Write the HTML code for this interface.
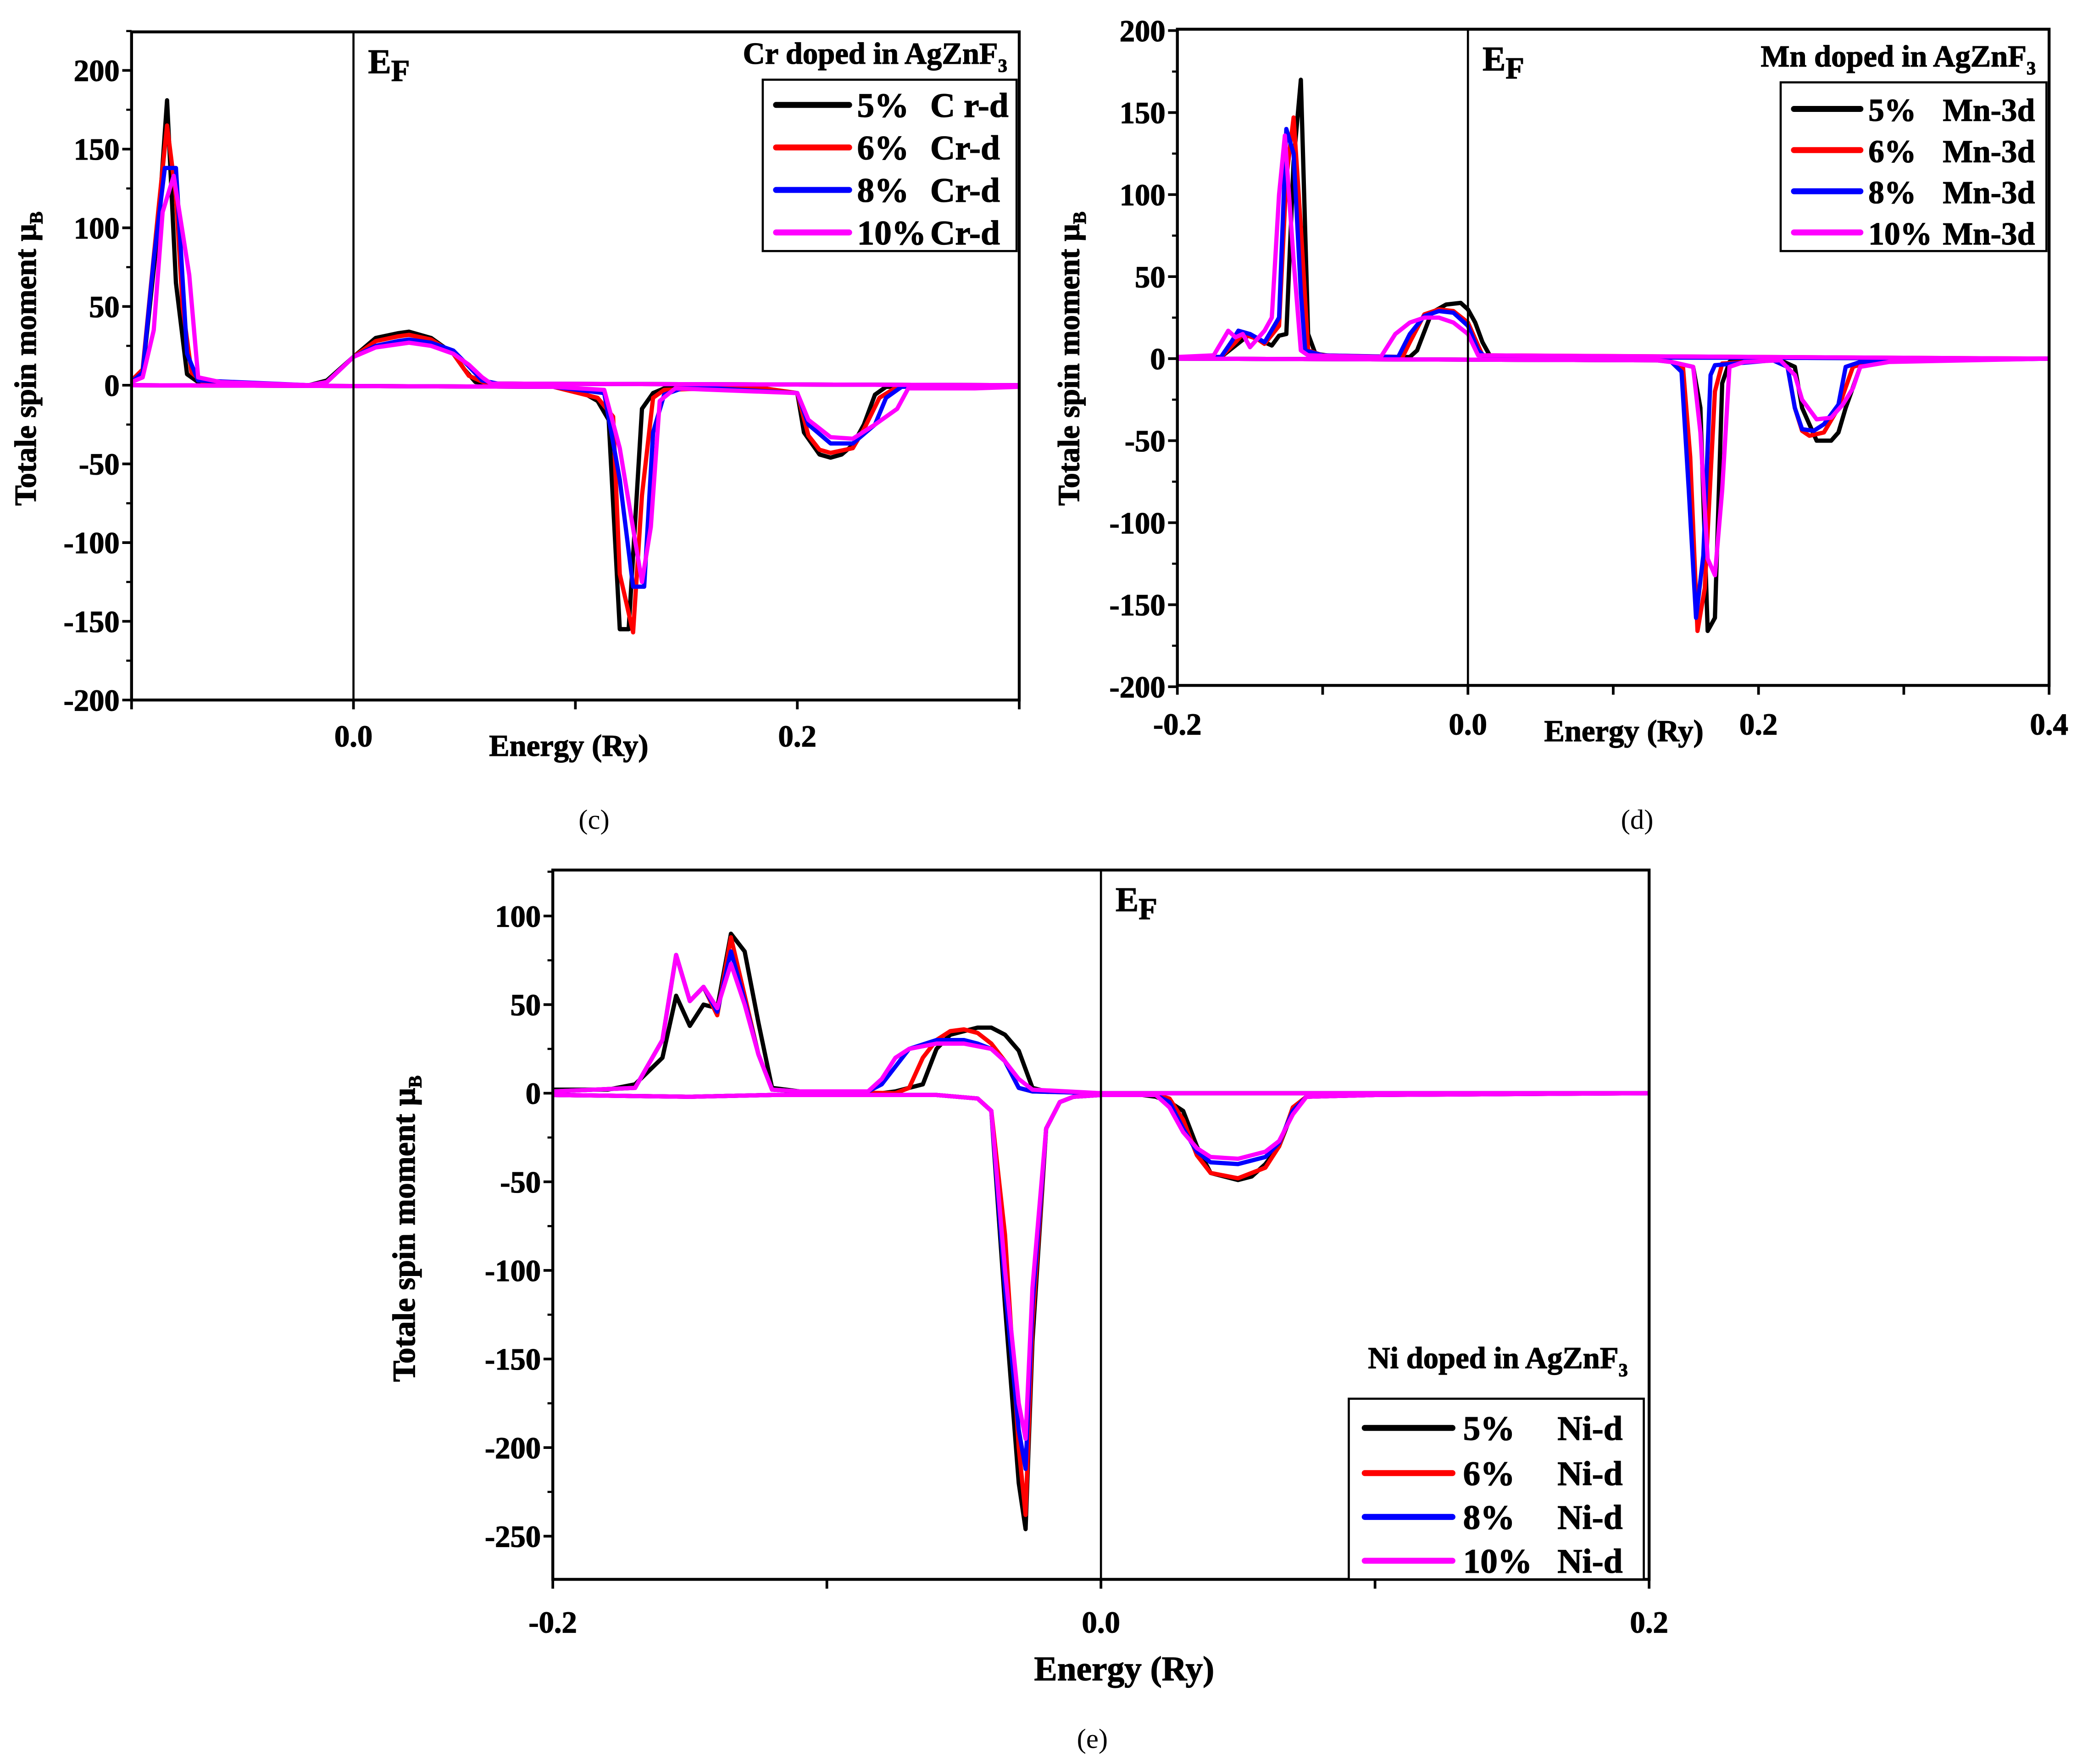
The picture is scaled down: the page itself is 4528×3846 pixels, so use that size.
<!DOCTYPE html>
<html><head><meta charset="utf-8"><style>
html,body{margin:0;padding:0;background:#fff;}
svg{display:block;font-family:"Liberation Serif",serif;font-weight:bold;}
svg text{font-weight:bold;stroke:#000;stroke-width:0.45px;}
svg text.cap{font-weight:normal;stroke:none;}
</style></head><body>
<svg id="fig" xmlns="http://www.w3.org/2000/svg" width="4528" height="3846" viewBox="0 0 1563 1328" preserveAspectRatio="none"></svg>
<script>
// ---------- DATA ----------
const seriesLabels = ["5%","6%","8%","10%"];
const seriesColors = ["#000000","#ff0000","#0000ff","#ff00ff"];

// Panel (c) Cr: [energy Ry, moment]
const crUp5 = [[-0.1,3],[-0.095,8],[-0.088,100],[-0.084,181],[-0.08,65],[-0.075,7],[-0.07,2],[-0.06,1],[-0.02,0],[-0.012,3],[0,18],[0.01,30],[0.02,33],[0.025,34],[0.035,30],[0.045,20],[0.05,10],[0.055,2],[0.065,1],[0.3,0]];
const crUp6 = [[-0.1,3],[-0.095,10],[-0.088,110],[-0.084,165],[-0.08,120],[-0.077,50],[-0.073,8],[-0.068,2],[-0.02,0],[-0.012,2],[0,18],[0.01,28],[0.02,31],[0.025,32],[0.035,29],[0.045,20],[0.052,6],[0.06,1],[0.3,0]];
const crUp8 = [[-0.1,2],[-0.095,8],[-0.09,80],[-0.085,138],[-0.08,138],[-0.075,20],[-0.07,3],[-0.02,0],[-0.012,2],[0,18],[0.01,25],[0.02,28],[0.025,29],[0.035,27],[0.045,22],[0.052,12],[0.058,3],[0.065,1],[0.3,0]];
const crUp10 = [[-0.1,2],[-0.095,5],[-0.09,35],[-0.086,110],[-0.081,133],[-0.074,70],[-0.07,5],[-0.06,2],[-0.02,0],[-0.012,2],[0,18],[0.01,24],[0.02,26],[0.025,27],[0.035,25],[0.045,20],[0.052,13],[0.058,5],[0.062,1],[0.3,0]];
const crDn5 = [[-0.1,0],[0.09,-1],[0.1,-2],[0.11,-10],[0.115,-22],[0.12,-155],[0.124,-155],[0.13,-15],[0.135,-5],[0.14,-2],[0.18,-1],[0.2,-5],[0.203,-30],[0.21,-44],[0.215,-46],[0.22,-44],[0.225,-38],[0.23,-25],[0.235,-6],[0.24,-1],[0.3,0]];
const crDn6 = [[-0.1,0],[0.09,-1],[0.11,-8],[0.117,-20],[0.12,-120],[0.126,-157],[0.13,-70],[0.135,-8],[0.14,-3],[0.18,-1],[0.2,-5],[0.205,-32],[0.21,-41],[0.215,-43],[0.225,-40],[0.23,-28],[0.237,-8],[0.245,-1],[0.3,0]];
const crDn8 = [[-0.1,0],[0.09,-1],[0.113,-5],[0.12,-60],[0.126,-128],[0.131,-128],[0.135,-30],[0.14,-6],[0.15,-1],[0.2,-5],[0.205,-25],[0.215,-37],[0.225,-37],[0.235,-25],[0.24,-8],[0.247,-1],[0.3,0]];
const crDn10 = [[-0.1,0],[0.09,-1],[0.113,-3],[0.12,-40],[0.13,-125],[0.134,-90],[0.138,-10],[0.145,-2],[0.2,-5],[0.205,-22],[0.215,-33],[0.225,-34],[0.235,-25],[0.245,-15],[0.25,-2],[0.28,-2],[0.3,-1]];

// Panel (d) Mn
const mnUp5 = [[-0.2,1],[-0.17,1],[-0.16,8],[-0.15,15],[-0.14,10],[-0.135,8],[-0.13,14],[-0.125,15],[-0.12,120],[-0.115,170],[-0.11,15],[-0.105,3],[-0.09,1],[-0.04,1],[-0.035,5],[-0.025,28],[-0.015,33],[-0.005,34],[0,30],[0.005,22],[0.01,10],[0.015,2],[0.02,1],[0.4,0]];
const mnUp6 = [[-0.2,1],[-0.17,1],[-0.16,10],[-0.155,15],[-0.145,12],[-0.14,9],[-0.13,20],[-0.125,110],[-0.12,147],[-0.115,80],[-0.11,5],[-0.1,2],[-0.045,1],[-0.04,10],[-0.03,27],[-0.02,30],[-0.01,29],[0,22],[0.005,12],[0.01,2],[0.4,0]];
const mnUp8 = [[-0.2,1],[-0.17,1],[-0.163,10],[-0.158,17],[-0.15,15],[-0.14,10],[-0.13,25],[-0.125,140],[-0.12,125],[-0.115,40],[-0.112,5],[-0.1,2],[-0.048,1],[-0.04,15],[-0.03,26],[-0.02,29],[-0.01,28],[0,20],[0.007,5],[0.012,1],[0.4,0]];
const mnUp10 = [[-0.2,1],[-0.175,2],[-0.165,17],[-0.16,13],[-0.155,15],[-0.15,7],[-0.14,17],[-0.135,25],[-0.13,100],[-0.126,136],[-0.12,60],[-0.115,5],[-0.11,2],[-0.06,1],[-0.05,15],[-0.04,22],[-0.03,25],[-0.02,25],[-0.01,22],[0,15],[0.007,2],[0.4,0]];
const mnDn5 = [[-0.2,0],[0.13,-1],[0.14,-2],[0.155,-5],[0.16,-30],[0.165,-166],[0.17,-158],[0.175,-15],[0.18,-2],[0.2,-1],[0.215,-1],[0.225,-5],[0.23,-30],[0.24,-50],[0.25,-50],[0.255,-45],[0.26,-30],[0.27,-5],[0.28,-1],[0.3,0],[0.32,-1],[0.4,0]];
const mnDn6 = [[-0.2,0],[0.13,-1],[0.14,-2],[0.148,-5],[0.153,-60],[0.158,-166],[0.163,-140],[0.17,-20],[0.175,-3],[0.21,-1],[0.22,-5],[0.225,-30],[0.23,-44],[0.235,-47],[0.245,-45],[0.255,-30],[0.265,-5],[0.28,-1],[0.4,0]];
const mnDn8 = [[-0.2,0],[0.13,-1],[0.14,-2],[0.147,-8],[0.152,-80],[0.157,-158],[0.162,-120],[0.167,-10],[0.17,-4],[0.21,-1],[0.22,-5],[0.225,-30],[0.23,-43],[0.238,-44],[0.245,-40],[0.255,-28],[0.26,-5],[0.27,-2],[0.4,0]];
const mnDn10 = [[-0.2,0],[0.13,-1],[0.14,-2],[0.155,-5],[0.16,-45],[0.165,-122],[0.17,-132],[0.175,-80],[0.18,-5],[0.19,-2],[0.215,-1],[0.225,-10],[0.23,-25],[0.24,-37],[0.25,-36],[0.258,-28],[0.265,-18],[0.27,-5],[0.29,-2],[0.4,0]];

// Panel (e) Ni
const niUp5 = [[-0.2,2],[-0.18,2],[-0.17,5],[-0.16,20],[-0.155,55],[-0.15,38],[-0.145,50],[-0.14,48],[-0.135,90],[-0.13,80],[-0.125,40],[-0.12,3],[-0.11,1],[-0.08,0],[-0.075,1],[-0.065,5],[-0.06,25],[-0.055,33],[-0.045,37],[-0.04,37],[-0.035,33],[-0.03,24],[-0.025,3],[-0.02,1],[0,0],[0.2,0]];
const niUp6 = [[-0.2,1],[-0.17,3],[-0.16,30],[-0.155,78],[-0.15,52],[-0.145,60],[-0.14,44],[-0.135,88],[-0.13,55],[-0.125,22],[-0.12,2],[-0.11,1],[-0.075,0],[-0.07,3],[-0.065,20],[-0.06,30],[-0.055,35],[-0.05,36],[-0.045,34],[-0.04,28],[-0.035,18],[-0.03,3],[-0.025,1],[0,0],[0.2,0]];
const niUp8 = [[-0.2,1],[-0.17,3],[-0.16,30],[-0.155,78],[-0.15,52],[-0.145,60],[-0.14,46],[-0.135,80],[-0.13,52],[-0.125,22],[-0.12,2],[-0.11,1],[-0.085,1],[-0.08,5],[-0.075,15],[-0.07,25],[-0.06,30],[-0.05,30],[-0.045,28],[-0.04,25],[-0.035,18],[-0.03,3],[-0.025,1],[0,0],[0.2,0]];
const niUp10 = [[-0.2,1],[-0.17,3],[-0.16,30],[-0.155,78],[-0.15,52],[-0.145,60],[-0.14,48],[-0.135,73],[-0.13,50],[-0.125,22],[-0.12,2],[-0.11,1],[-0.085,1],[-0.08,8],[-0.075,20],[-0.07,25],[-0.06,28],[-0.05,28],[-0.04,25],[-0.035,18],[-0.03,8],[-0.025,2],[0,0],[0.2,0]];
const niDn5 = [[-0.2,-1],[-0.15,-2],[-0.12,-1],[-0.06,-1],[-0.045,-3],[-0.04,-10],[-0.035,-120],[-0.03,-220],[-0.0275,-246],[-0.025,-140],[-0.02,-20],[-0.015,-5],[-0.01,-2],[0,-1],[0.015,-1],[0.02,-2],[0.025,-5],[0.03,-10],[0.035,-30],[0.04,-45],[0.05,-49],[0.055,-47],[0.06,-40],[0.065,-30],[0.07,-10],[0.075,-2],[0.1,-1],[0.2,0]];
const niDn6 = [[-0.2,-1],[-0.15,-2],[-0.12,-1],[-0.06,-1],[-0.045,-3],[-0.04,-10],[-0.035,-80],[-0.03,-200],[-0.0275,-238],[-0.025,-130],[-0.02,-20],[-0.015,-5],[-0.01,-2],[0,-1],[0.02,-1],[0.025,-3],[0.03,-15],[0.035,-35],[0.04,-45],[0.05,-48],[0.06,-42],[0.065,-30],[0.07,-8],[0.075,-2],[0.1,-1],[0.2,0]];
const niDn8 = [[-0.2,-1],[-0.15,-2],[-0.12,-1],[-0.06,-1],[-0.045,-3],[-0.04,-10],[-0.035,-110],[-0.03,-190],[-0.0275,-212],[-0.025,-120],[-0.02,-20],[-0.015,-5],[-0.01,-2],[0,-1],[0.02,-1],[0.025,-5],[0.03,-20],[0.035,-33],[0.04,-39],[0.05,-40],[0.06,-36],[0.065,-28],[0.07,-10],[0.075,-2],[0.1,-1],[0.2,0]];
const niDn10 = [[-0.2,-1],[-0.15,-2],[-0.12,-1],[-0.06,-1],[-0.045,-3],[-0.04,-10],[-0.035,-100],[-0.03,-175],[-0.0275,-195],[-0.025,-110],[-0.02,-20],[-0.015,-5],[-0.01,-2],[0,-1],[0.02,-1],[0.025,-8],[0.03,-22],[0.035,-31],[0.04,-36],[0.05,-37],[0.06,-33],[0.065,-27],[0.07,-12],[0.075,-2],[0.1,-1],[0.2,0]];

const crXTicks = [-0.1,0,0.1,0.2,0.3], crXLabels = ["","0.0","","0.2",""];
const mnXTicks = [-0.2,-0.1,0,0.1,0.2,0.3,0.4], mnXLabels = ["-0.2","","0.0","","0.2","","0.4"];
const niXTicks = [-0.2,-0.1,0,0.1,0.2], niXLabels = ["-0.2","","0.0","","0.2"];
const crYTicks = [-200,-150,-100,-50,0,50,100,150,200];
const mnYTicks = [-200,-150,-100,-50,0,50,100,150,200];
const niYTicks = [-250,-200,-150,-100,-50,0,50,100];

// ---------- DRAW ----------
const NS = "http://www.w3.org/2000/svg";
const svg = document.getElementById("fig");
function mk(tag, attrs, parent, txt){
  const e = document.createElementNS(NS, tag);
  for (const k in attrs) e.setAttribute(k, attrs[k]);
  if (txt !== undefined) e.textContent = txt;
  (parent||svg).appendChild(e);
  return e;
}
function panel(p){
  const g = mk("g", {});
  
  
  const X = v => p.L + (v - p.xmin) / (p.xmax - p.xmin) * (p.R - p.L);
  const Y = v => p.y0 - v * p.ys;
  p.up.forEach((arr, i) => {
    [arr, p.dn[i]].forEach((d, j) => {
      const pl = mk("polyline", {points: d.map(q => X(q[0]).toFixed(2)+","+Y(q[1]).toFixed(2)).join(" "), fill:"none", stroke:seriesColors[i], "stroke-width":3.2, "stroke-linejoin":"round"}, g);
      
      
    });
  });
  const ef = mk("line", {x1:X(0), x2:X(0), y1:p.T, y2:p.B, stroke:"#000", "stroke-width":1.6}, g);
  
  
  const eft = mk("text", {x:X(0)+11, y:p.T+31, "font-size":26}, g);
  
  
  eft.textContent = "E";
  mk("tspan", {dy:6, "font-size":23}, eft, "F");
  const fr = mk("rect", {x:p.L, y:p.T, width:p.R-p.L, height:p.B-p.T, fill:"none", stroke:"#000", "stroke-width":2.2}, g);
  
  
  p.yt.forEach((v, k) => {
    mk("line", {x1:p.L-7, x2:p.L, y1:Y(v), y2:Y(v), stroke:"#000", "stroke-width":2}, g);
    if (k < p.yt.length-1) mk("line", {x1:p.L-4, x2:p.L, y1:Y(v+25), y2:Y(v+25), stroke:"#000", "stroke-width":1.6}, g);
    const t = mk("text", {x:p.L-9, y:Y(v)+8, "font-size":23, "text-anchor":"end"}, g, String(v));
    
    
  });
  if (p.yExtra !== undefined) mk("line", {x1:p.L-4, x2:p.L, y1:Y(p.yExtra), y2:Y(p.yExtra), stroke:"#000", "stroke-width":1.6}, g);
  p.xt.forEach((v, k) => {
    mk("line", {x1:X(v), x2:X(v), y1:p.B, y2:p.B+7, stroke:"#000", "stroke-width":2}, g);
    if (p.xl[k]) {
      const t = mk("text", {x:X(v), y:p.B+p.xlOff, "font-size":23, "text-anchor":"middle"}, g, p.xl[k]);
      
      
    }
  });
  const xt = mk("text", {x:p.xlab[0], y:p.xlab[1], "font-size":p.xlab[2], "text-anchor":"middle"}, g, "Energy (Ry)");
  
  
  const yt = mk("text", {x:0, y:0, "font-size":p.ylab[2], "text-anchor":"middle", transform:"translate("+p.ylab[0]+","+p.ylab[1]+") rotate(-90)"}, g, "Totale spin moment μ");
  mk("tspan", {dy:5, "font-size":14}, yt, "B");
  
  
  const tt = mk("text", {x:p.title[0], y:p.title[1], "font-size":23, "text-anchor":"end"}, g, p.titleText);
  mk("tspan", {dy:6, "font-size":14}, tt, "3");
  
  
  const lg = mk("g", {}, g);
  
  
  const lb = p.leg;
  mk("rect", {x:lb.x, y:lb.y, width:lb.w, height:lb.h, fill:"#fff", stroke:"#000", "stroke-width":1.6}, lg);
  seriesLabels.forEach((s, i) => {
    const ry = lb.rows[i];
    const en = mk("g", {}, lg);
    
    
    mk("line", {x1:lb.l1, x2:lb.l2, y1:ry, y2:ry, stroke:seriesColors[i], "stroke-width":4.5, "stroke-linecap":"round"}, en);
    mk("text", {x:lb.tx, y:ry+9, "font-size":lb.fs}, en, s);
    mk("text", {x:lb.tx2, y:ry+9, "font-size":lb.fs}, en, lb.names[i]);
  });
  const c = mk("text", {x:p.cap[0], y:p.cap[1], "font-size":21, "text-anchor":"middle", "class":"cap"}, g, p.cap[2]);
  
  
}

panel({name:"panel-c-cr", L:99, R:767, T:24, B:527, xmin:-0.1, xmax:0.3, y0:290, ys:1.185,
  up:[crUp5,crUp6,crUp8,crUp10], dn:[crDn5,crDn6,crDn8,crDn10],
  yt:crYTicks, yExtra:225, xt:crXTicks, xl:crXLabels, xlOff:35,
  xlab:[428,569,23], ylab:[27,270,23], title:[758,48], titleText:"Cr doped in AgZnF",
  leg:{x:574,y:60,w:191,h:129,rows:[79,111,143,175],l1:584,l2:639,tx:645,tx2:700,fs:26,names:["C r-d","Cr-d","Cr-d","Cr-d"]},
  cap:[447,624,"(c)"]});
panel({name:"panel-d-mn", L:886, R:1542, T:22, B:516, xmin:-0.2, xmax:0.4, y0:270, ys:1.235,
  up:[mnUp5,mnUp6,mnUp8,mnUp10], dn:[mnDn5,mnDn6,mnDn8,mnDn10],
  yt:mnYTicks, xt:mnXTicks, xl:mnXLabels, xlOff:37,
  xlab:[1222,558,23], ylab:[812,270,23], title:[1532,50], titleText:"Mn doped in AgZnF",
  leg:{x:1340,y:62,w:200,h:127,rows:[82,113,144,175],l1:1350,l2:1400,tx:1406,tx2:1462,fs:24,names:["Mn-3d","Mn-3d","Mn-3d","Mn-3d"]},
  cap:[1232,624,"(d)"]});
panel({name:"panel-e-ni", L:416, R:1241, T:655, B:1189, xmin:-0.2, xmax:0.2, y0:823, ys:1.334,
  up:[niUp5,niUp6,niUp8,niUp10], dn:[niDn5,niDn6,niDn8,niDn10],
  yt:niYTicks, yExtra:125, xt:niXTicks, xl:niXLabels, xlOff:40,
  xlab:[846,1265,26], ylab:[312,925,24], title:[1225,1030], titleText:"Ni doped in AgZnF",
  leg:{x:1015,y:1053,w:222,h:136,rows:[1075,1109,1142,1175],l1:1027,l2:1093,tx:1101,tx2:1172,fs:26,names:["Ni-d","Ni-d","Ni-d","Ni-d"]},
  cap:[822,1316,"(e)"]});
</script>
</body></html>
